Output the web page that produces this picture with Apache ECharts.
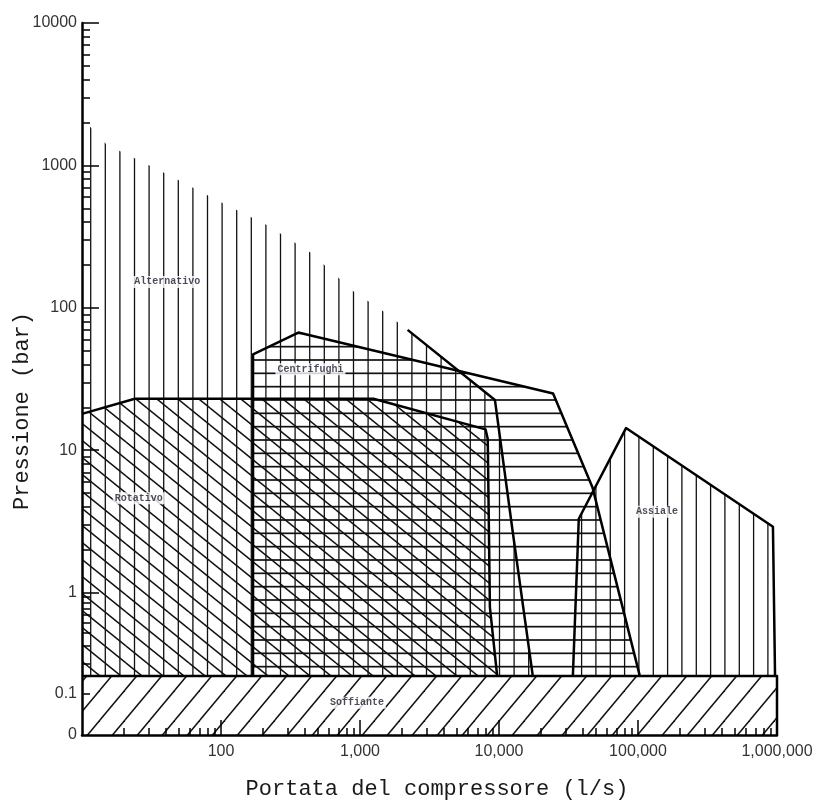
<!DOCTYPE html>
<html>
<head>
<meta charset="utf-8">
<title>Campi di impiego dei compressori</title>
<script src="https://cdn.jsdelivr.net/npm/echarts@6/dist/echarts.min.js"></script>
<style>
html, body { margin: 0; padding: 0; background: #fff; }
#chart { width: 818px; height: 800px; }
</style>
</head>
<body>
<div id="chart"></div>
<script>
// values: flow in l/s, pressure in bar
var xTickFlows = [100, 1000, 10000, 100000, 1000000];
var xTickLabels = ['100', '1,000', '10,000', '100,000', '1,000,000'];
var yTickPress = [0, 0.1, 1, 10, 100, 1000, 10000];
var yTickLabels = ['0', '0.1', '1', '10', '100', '1000', '10000'];

// every field sits on the blower band, whose top is ~0.15 bar
var alternativoFlow = [10, 10, 15, 38, 100, 215, 440, 900, 1460, 2200, 9350, 12600, 17500];
var alternativoPress = [0.15, 2150, 1400, 900, 550, 380, 245, 130, 95, 70, 22.5, 2.6, 0.15];

var rotativoFlow = [10, 10, 24, 1250, 8000, 8300, 8600, 9700];
var rotativoPress = [0.15, 18, 23, 23, 14, 12, 0.72, 0.15];

var centrifughiFlow = [170, 170, 360, 24500, 47000, 103000];
var centrifughiPress = [0.15, 47, 67, 25, 5.5, 0.15];

var assialeFlow = [34000, 37500, 82000, 935000, 968000];
var assialePress = [0.15, 3.3, 14.3, 2.9, 0.15];

var soffianteFlow = [10, 10, 1000000, 1000000];
var soffiantePress = [0, 0.15, 0.15, 0];

var labelNames = ['Alternativo', 'Centrifughi', 'Rotativo', 'Assiale', 'Soffiante'];
var labelFlow = [41, 440, 25.6, 137000, 950];
var labelPress = [152, 37, 4.6, 3.7, 0.078];

// pressure axis of the original: log above 1 bar, squeezed log from 0.1 to 1, linear below 0.1
function presToAxis(p) {
  if (p >= 1) return Math.log10(p);
  if (p >= 0.1) return 0.71 * Math.log10(p);
  return -1 + 2.9 * p;
}
function flowToAxis(f) { return Math.log10(f); }

function hatch(w, h, segs, lw) {
  var c = document.createElement('canvas');
  c.width = w; c.height = h;
  var ctx = c.getContext('2d');
  ctx.strokeStyle = '#111';
  ctx.lineWidth = lw;
  [-1, 0, 1].forEach(function (i) {
    [-1, 0, 1].forEach(function (j) {
      segs.forEach(function (s) {
        ctx.beginPath();
        ctx.moveTo(s[0] + i * w, s[1] + j * h);
        ctx.lineTo(s[2] + i * w, s[3] + j * h);
        ctx.stroke();
      });
    });
  });
  return { image: c, repeat: 'repeat' };
}

var vertAlt = hatch(73, 10, [0, 1, 2, 3, 4].map(function (k) {
  var x = 3.1 + 14.6 * k; return [x, 0, x, 10];
}), 1.3);
var diagRot = hatch(21, 17, [[0, 0, 21, 17]], 1.5);
var horizCen = hatch(10, 40, [[0, 0, 10, 0], [0, 13.33, 10, 13.33], [0, 26.67, 10, 26.67]], 1.7);
var vertAss = hatch(43, 10, [[8.3, 0, 8.3, 10], [22.6, 0, 22.6, 10], [36.9, 0, 36.9, 10]], 1.3);
var diagSof = hatch(25, 30, [[0, 30, 25, 0]], 1.5);

var regions = [
  { name: 'Alternativo', flow: alternativoFlow, press: alternativoPress, fill: vertAlt, edgeFrom: 9 },
  { name: 'Rotativo', flow: rotativoFlow, press: rotativoPress, fill: diagRot, edgeFrom: 1 },
  { name: 'Centrifughi', flow: centrifughiFlow, press: centrifughiPress, fill: horizCen, edgeFrom: 0 },
  { name: 'Assiale', flow: assialeFlow, press: assialePress, fill: vertAss, edgeFrom: 0 },
  { name: 'Soffiante', flow: soffianteFlow, press: soffiantePress, fill: diagSof, edgeFrom: 1 }
];

function pointsOf(r) {
  return r.flow.map(function (f, i) { return [flowToAxis(f), presToAxis(r.press[i])]; });
}

function shapeSeries(r, outline) {
  var pts = pointsOf(r);
  return {
    type: 'custom',
    name: r.name,
    coordinateSystem: 'cartesian2d',
    silent: true,
    z: outline ? 3 : 2,
    data: outline ? pts.slice(r.edgeFrom) : pts,
    renderItem: function (params, api) {
      if (params.dataIndexInside !== 0) return;
      var coords = [];
      for (var i = 0; i < params.dataInsideLength; i++) {
        coords.push(api.coord([api.value(0, i), api.value(1, i)]));
      }
      if (outline) {
        return {
          type: 'polyline',
          shape: { points: coords },
          style: { fill: 'none', stroke: '#000', lineWidth: 2.5, lineJoin: 'round' }
        };
      }
      return {
        type: 'polygon',
        shape: { points: coords },
        style: { fill: r.fill, stroke: 'none' }
      };
    }
  };
}

var series = [];
regions.forEach(function (r) { series.push(shapeSeries(r, false)); });
regions.forEach(function (r) { series.push(shapeSeries(r, true)); });
series.push({
  type: 'scatter',
  silent: true,
  z: 4,
  symbolSize: 1,
  itemStyle: { color: 'rgba(0,0,0,0)' },
  data: labelNames.map(function (n, i) {
    return { name: n, value: [flowToAxis(labelFlow[i]), presToAxis(labelPress[i])] };
  }),
  label: {
    show: true,
    position: 'inside',
    formatter: '{b}',
    fontFamily: 'Liberation Mono',
    fontWeight: 'bold',
    fontSize: 10,
    color: '#1b1b2e',
    backgroundColor: '#fff',
    padding: [1, 2]
  }
});

// tick positions
var xMajor = xTickFlows.map(flowToAxis);
var xMinor = [];
for (var d = 1; d <= 5; d++) {
  for (var k = 2; k <= 9; k++) xMinor.push(flowToAxis(k * Math.pow(10, d)));
}
var yLabelPos = yTickPress.map(presToAxis);
var yMajor = [1, 10, 100, 1000, 10000].map(presToAxis);
var yMinor = [presToAxis(0.1)];
for (var e = -1; e <= 3; e++) {
  for (var m = 2; m <= 9; m++) yMinor.push(presToAxis(m * Math.pow(10, e)));
}

function pick(values, labels) {
  return function (v) {
    for (var i = 0; i < values.length; i++) {
      if (Math.abs(values[i] - v) < 1e-6) return labels[i];
    }
    return '';
  };
}

var axisFont = { fontFamily: 'Liberation Sans', fontSize: 16, color: '#333' };
var titleFont = 'normal 22px "Liberation Mono"';

var chart = echarts.init(document.getElementById('chart'));
chart.setOption({
  backgroundColor: '#fff',
  animation: false,
  grid: { left: 82, right: 41, top: 23, bottom: 65, outerBoundsMode: 'none' },
  xAxis: [{
    type: 'value', min: 1, max: 6, z: 5,
    axisLine: { onZero: false, lineStyle: { color: '#000', width: 2.5 } },
    axisTick: { inside: true, length: 15, customValues: xMajor, lineStyle: { color: '#000', width: 1.5 } },
    axisLabel: Object.assign({ margin: 9, customValues: xMajor, formatter: pick(xMajor, xTickLabels) }, axisFont),
    splitLine: { show: false }
  }, {
    type: 'value', min: 1, max: 6, z: 5, position: 'bottom',
    axisLine: { show: false, onZero: false },
    axisTick: { inside: true, length: 7, customValues: xMinor, lineStyle: { color: '#000', width: 1.5 } },
    axisLabel: { show: false },
    splitLine: { show: false }
  }],
  yAxis: [{
    type: 'value', min: -1, max: 4, z: 5,
    axisLine: { show: true, onZero: false, lineStyle: { color: '#000', width: 2.5 } },
    axisTick: { show: true, inside: true, length: 17, customValues: yMajor, lineStyle: { color: '#000', width: 1.5 } },
    axisLabel: Object.assign({ margin: 5, customValues: yLabelPos, formatter: pick(yLabelPos, yTickLabels) }, axisFont),
    splitLine: { show: false }
  }, {
    type: 'value', min: -1, max: 4, z: 5, position: 'left',
    axisLine: { show: false, onZero: false },
    axisTick: { show: true, inside: true, length: 8, customValues: yMinor, lineStyle: { color: '#000', width: 1.5 } },
    axisLabel: { show: false },
    splitLine: { show: false }
  }],
  graphic: [{
    type: 'text', x: 22, y: 411, rotation: Math.PI / 2,
    style: { text: 'Pressione (bar)', font: titleFont, fill: '#1a1a1a', align: 'center', verticalAlign: 'middle' }
  }, {
    type: 'text', x: 437, y: 789,
    style: { text: 'Portata del compressore (l/s)', font: titleFont, fill: '#1a1a1a', align: 'center', verticalAlign: 'middle' }
  }],
  series: series
});
</script>
</body>
</html>
